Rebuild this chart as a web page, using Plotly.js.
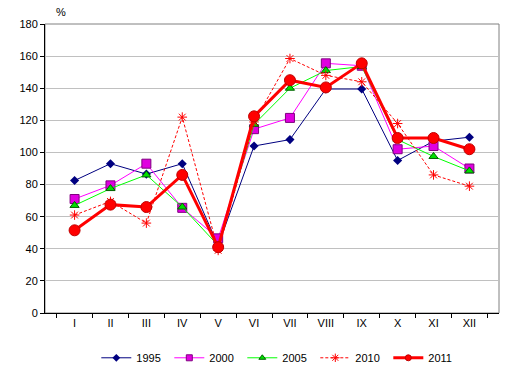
<!DOCTYPE html>
<html><head><meta charset="utf-8">
<script src="https://cdn.plot.ly/plotly-3.0.1.min.js"></script>
<style>body{margin:0;background:#fff}#c{width:514px;height:376px}</style>
</head><body><div id="c"></div>
<script>
const months = ["I","II","III","IV","V","VI","VII","VIII","IX","X","XI","XII"];
const v1995 = [82.5, 93, 86.5, 93, 42, 104, 108, 139.5, 139.5, 95, 107, 109.5];
const v2000 = [71, 79.5, 93, 65.5, 46.5, 114.5, 121.5, 155.5, 154, 102, 104, 90];
const v2005 = [67, 77.5, 86, 66, 42, 117.5, 140, 151, 153.5, 108, 97.5, 88.5];
const v2010 = [61, 69.5, 56, 122, 39, 119, 158.5, 148, 144, 118, 86, 79];
const v2011 = [51.5, 67.5, 66, 86, 41, 122.5, 145, 140.5, 155.5, 109, 109, 102];
const yTicks = [0,20,40,60,80,100,120,140,160,180];

const styles = [
  {name:"1995", y:v1995, line:{color:"#000080",width:1}, marker:{symbol:"diamond",size:7,color:"#000080"}, lm:6},
  {name:"2000", y:v2000, line:{color:"#ff00ff",width:1}, marker:{symbol:"square",size:9,color:"#e000e0",line:{color:"#800080",width:1}}, lm:6},
  {name:"2005", y:v2005, line:{color:"#00ff00",width:1}, marker:{symbol:"triangle-up",size:8,color:"#00e000",line:{color:"#006000",width:1}}, lm:6},
  {name:"2010", y:v2010, line:{color:"#ff0000",width:1,dash:"3px,2px"}, marker:{symbol:"asterisk-open",size:8,color:"#ff0000",line:{color:"#ff0000",width:1}}, lm:7},
  {name:"2011", y:v2011, line:{color:"#ff0000",width:3}, marker:{symbol:"circle",size:11,color:"#ff0000",line:{color:"#c00000",width:1}}, lm:6}
];
const traces = [];
styles.forEach(s => {
  traces.push({type:"scatter", mode:"lines+markers", x:months, y:s.y, name:s.name, line:s.line, marker:s.marker, showlegend:false});
});
styles.forEach(s => {
  const m = Object.assign({}, s.marker, {size:s.lm});
  traces.push({type:"scatter", mode:"lines+markers", x:[null], y:[null], name:s.name, line:s.line, marker:m, showlegend:true});
});

const layout = {
  width:514, height:376,
  margin:{l:45, r:15, t:24, b:63, autoexpand:false},
  paper_bgcolor:"#fff", plot_bgcolor:"#fff",
  font:{family:"Liberation Sans, Arial, sans-serif", size:11, color:"#000"},
  showlegend:true,
  legend:{orientation:"h", x:0.515, xanchor:"center", y:-0.155, yanchor:"middle", font:{size:11}, entrywidth:28, tracegroupgap:0},
  xaxis:{type:"category", showgrid:false, showline:true, linecolor:"#000", linewidth:1,
         ticks:"outside", ticklen:4, tickcolor:"#000", tickson:"boundaries", zeroline:false},
  yaxis:{range:[0,180], tickvals:yTicks, ticktext:yTicks.map(String), showgrid:true, gridcolor:"#c0c0c0",
         showline:true, linecolor:"#000", linewidth:1, ticks:"outside", ticklen:4, tickcolor:"#000", zeroline:false},
  shapes:[{type:"rect", xref:"paper", yref:"paper", x0:0, x1:1, y0:0, y1:1, line:{color:"#808080", width:1}, layer:"below"}],
  annotations:[{text:"%", xref:"paper", yref:"paper", x:0.02, y:1.015, xanchor:"left", yanchor:"bottom", showarrow:false, font:{size:11}}]
};
Plotly.newPlot("c", traces, layout, {displayModeBar:false, staticPlot:true});
</script></body></html>
